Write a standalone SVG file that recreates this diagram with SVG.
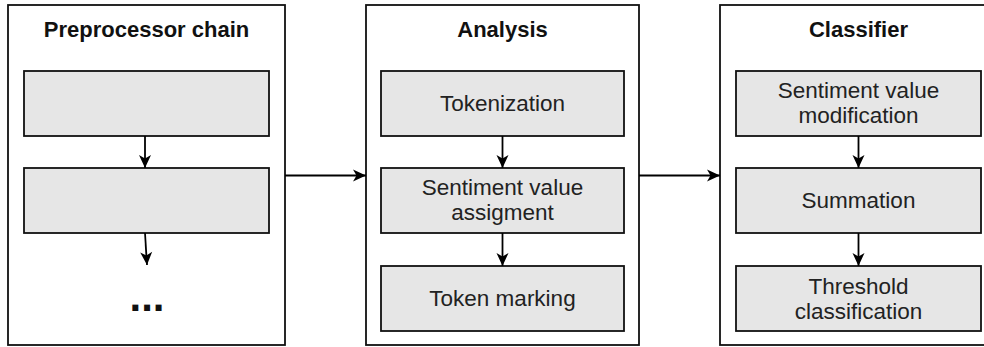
<svg xmlns="http://www.w3.org/2000/svg" width="984" height="347" viewBox="0 0 984 347">
<style>
.cont{fill:#fff;stroke:#111;stroke-width:1.8}
.box{fill:#e6e6e6;stroke:#111;stroke-width:1.8}
.title{font-family:"Liberation Sans",Arial,sans-serif;font-weight:bold;font-size:22px;fill:#111;text-anchor:middle}
.lbl{font-family:"Liberation Sans",Arial,sans-serif;font-size:22.5px;fill:#222;text-anchor:middle}
.conn{fill:none;stroke:#000;stroke-width:1.8;marker-end:url(#arr)}
</style>
<defs>
<marker id="arr" markerUnits="userSpaceOnUse" markerWidth="16" markerHeight="16" viewBox="0 0 16 16" refX="14" refY="8" orient="auto">
<path d="M1,2 L14,8 L1,14 L4.5,8 Z" fill="#000"/>
</marker>
</defs>
<rect width="984" height="347" fill="#fff"/>
<g id="preprocessor">
<rect class="cont" x="8" y="5" width="277" height="340"/>
<text class="title" x="146.5" y="37">Preprocessor chain</text>
<rect class="box" x="24" y="71" width="245" height="65"/>
<rect class="box" x="24" y="168" width="245" height="65"/>
<text x="147" y="311" font-family="Liberation Sans,Arial,sans-serif" font-weight="bold" font-size="42" text-anchor="middle" fill="#111">...</text>
</g>
<g id="analysis">
<rect class="cont" x="366" y="5" width="273" height="340"/>
<text class="title" x="502.5" y="37">Analysis</text>
<g id="tokenization"><rect class="box" x="381" y="71" width="243" height="65"/><text class="lbl" x="502.5" y="111">Tokenization</text></g>
<g id="assignment"><rect class="box" x="381" y="168" width="243" height="65"/><text class="lbl" x="502.5" y="195">Sentiment value</text><text class="lbl" x="502.5" y="220">assigment</text></g>
<g id="marking"><rect class="box" x="381" y="266" width="243" height="65"/><text class="lbl" x="502.5" y="306">Token marking</text></g>
</g>
<g id="classifier">
<rect class="cont" x="720" y="5" width="277" height="340"/>
<text class="title" x="858.5" y="37">Classifier</text>
<g id="modification"><rect class="box" x="736" y="71" width="245" height="65"/><text class="lbl" x="858.5" y="98">Sentiment value</text><text class="lbl" x="858.5" y="123">modification</text></g>
<g id="summation"><rect class="box" x="736" y="168" width="245" height="65"/><text class="lbl" x="858.5" y="208">Summation</text></g>
<g id="threshold"><rect class="box" x="736" y="266" width="245" height="65"/><text class="lbl" x="858.5" y="293.5">Threshold</text><text class="lbl" x="858.5" y="318.5">classification</text></g>
</g>
<g id="connectors">
<path class="conn" d="M145,136 L145,168"/>
<path class="conn" d="M145,233 L147,265"/>
<path class="conn" d="M502.5,136 L502.5,168"/>
<path class="conn" d="M502.5,233 L502.5,266"/>
<path class="conn" d="M858.5,136 L858.5,168"/>
<path class="conn" d="M858.5,233 L858.5,266"/>
<path class="conn" d="M285,175.5 L366,175.5"/>
<path class="conn" d="M639,175.5 L720,175.5"/>
</g>
</svg>
